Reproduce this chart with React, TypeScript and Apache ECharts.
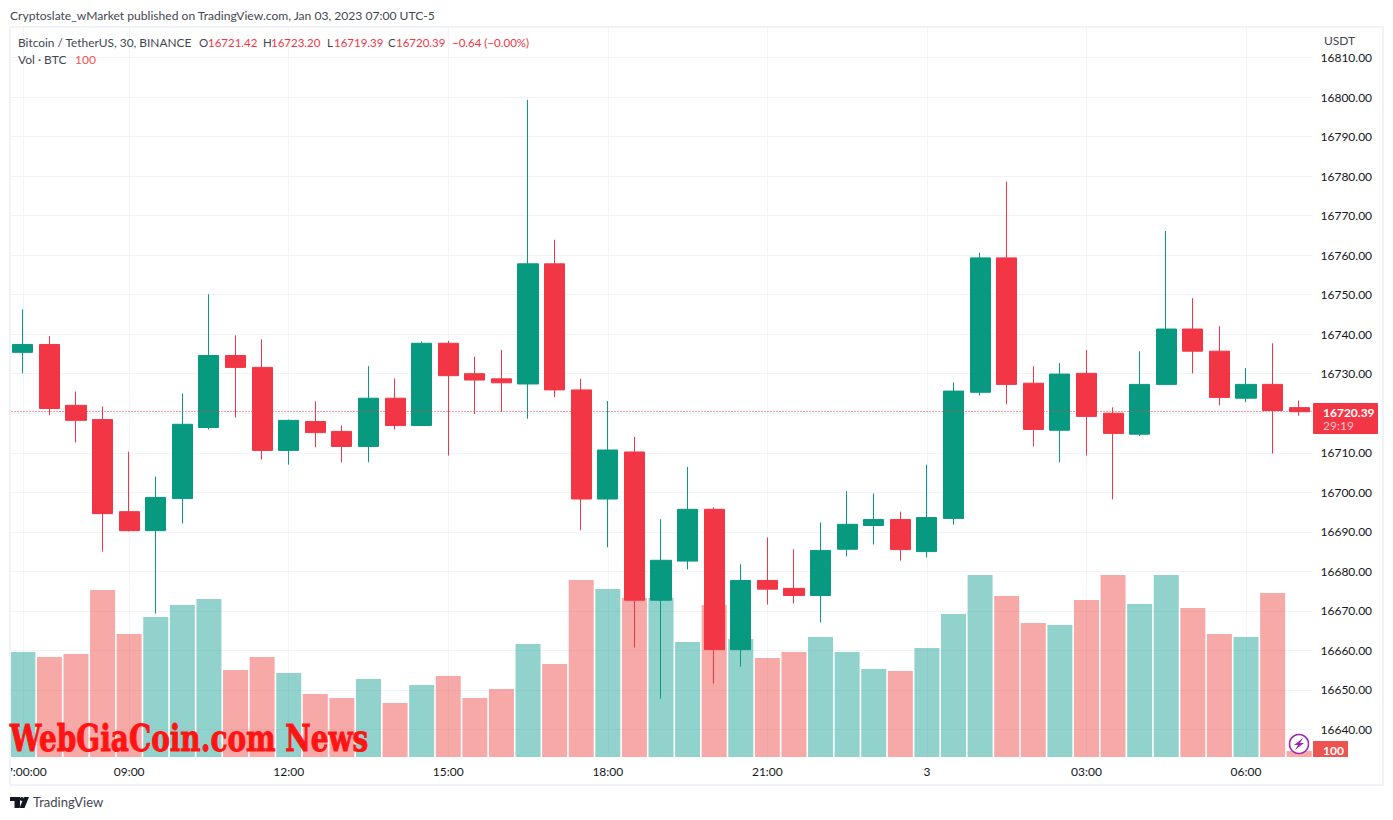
import React, { useEffect, useRef } from "react";
import * as echarts from "echarts";

const categories = ["07:00","07:30","08:00","08:30","09:00","09:30","10:00","10:30","11:00","11:30","12:00","12:30","13:00","13:30","14:00","14:30","15:00","15:30","16:00","16:30","17:00","17:30","18:00","18:30","19:00","19:30","20:00","20:30","21:00","21:30","22:00","22:30","23:00","23:30","3","00:30","01:00","01:30","02:00","02:30","03:00","03:30","04:00","04:30","05:00","05:30","06:00","06:30","07:00"];
const tickLabels: Record<number, string> = { 0: "07:00:00", 4: "09:00", 10: "12:00", 16: "15:00", 22: "18:00", 28: "21:00", 34: "3", 40: "03:00", 46: "06:00" };

const opens = [16735.4,16737.4,16722.0,16718.4,16695.1,16690.3,16698.4,16716.4,16734.6,16731.6,16710.6,16717.9,16715.4,16711.6,16723.8,16716.9,16737.7,16730.0,16728.7,16727.4,16757.8,16725.9,16698.3,16710.2,16672.7,16682.6,16695.7,16660.2,16677.7,16675.7,16673.9,16685.6,16691.6,16693.1,16685.0,16693.4,16725.3,16759.3,16727.6,16715.7,16730.1,16720.0,16714.7,16727.3,16741.3,16735.7,16723.8,16727.3,16721.42];
const closes = [16737.4,16721.2,16718.2,16694.6,16690.3,16698.7,16717.2,16734.6,16731.6,16710.6,16718.2,16715.1,16711.6,16723.8,16716.9,16737.7,16729.5,16728.4,16727.7,16757.8,16725.9,16698.3,16710.7,16672.7,16682.8,16695.7,16660.2,16677.7,16675.5,16673.9,16685.3,16691.9,16693.1,16685.5,16693.6,16725.6,16759.3,16727.3,16715.9,16729.9,16719.2,16714.9,16727.3,16741.3,16735.7,16724.0,16727.3,16720.7,16720.39];
const lows = [16730.1,16719.5,16712.6,16685.0,16690.1,16669.3,16692.1,16715.9,16718.9,16708.3,16707.0,16711.4,16707.6,16707.6,16715.9,16716.9,16709.3,16719.8,16720.3,16718.6,16724.1,16690.4,16686.1,16660.7,16647.8,16680.5,16651.6,16655.9,16671.6,16671.9,16667.1,16683.8,16686.8,16682.7,16683.5,16691.8,16724.5,16722.3,16711.6,16707.6,16709.3,16698.2,16714.2,16727.3,16730.1,16722.0,16722.8,16709.8,16719.39];
const highs = [16746.3,16739.5,16725.5,16721.7,16710.3,16704.0,16725.0,16750.1,16739.7,16738.7,16718.4,16723.0,16716.9,16731.9,16728.8,16738.2,16738.3,16734.3,16736.0,16799.3,16763.9,16728.7,16723.1,16714.0,16693.2,16706.4,16696.2,16681.8,16688.6,16685.6,16692.4,16700.3,16699.7,16695.1,16707.0,16727.8,16760.6,16778.6,16731.9,16732.7,16736.0,16721.5,16735.7,16766.1,16749.1,16742.0,16731.4,16737.7,16723.2];
const volumes = [1750,1667,1717,2783,2050,2333,2533,2633,1450,1667,1400,1050,983,1300,900,1200,1350,983,1133,1883,1550,2950,2800,2650,2650,1917,2533,1967,1650,1750,2000,1750,1467,1433,1817,2383,3033,2683,2233,2200,2617,3033,2550,3033,2483,2050,2000,2733,100];

const lastPrice = 16720.39;
const UP = "#089981";
const DOWN = "#F23645";
const UP_VOL = "rgba(38,166,154,0.5)";
const DOWN_VOL = "rgba(239,83,80,0.5)";
const GRID = "#F0F3FA";
const FONT = "Lato";
const TEXT = "#131722";
const MUTED = "#434651";

echarts.graphic.registerShape(
  "tvlogo",
  echarts.graphic.extendPath("M10 0H0v4h4.5v7H10V0Z M19 0l-4.5 11h-5L14 0h5Z M13.6 2a1.9 1.9 0 1 1-3.8 0 1.9 1.9 0 0 1 3.8 0Z", {}) as any
);

function txt(x: number, y: number, text: string, fill = TEXT, extra: any = {}) {
  return {
    type: "text", x, y, z: 110,
    style: { text, fill, font: `12px ${FONT}`, textVerticalAlign: "middle", ...extra },
  };
}

export default function App() {
  const ref = useRef<HTMLDivElement>(null);
  useEffect(() => {
    const chart = echarts.init(ref.current!, undefined, { renderer: "svg" });
    const small = { font: `11.5px ${FONT}` };
    chart.setOption({
      animation: false,
      backgroundColor: "#fff",
      grid: [
        { left: 9.5, width: 1303, top: 27, height: 730, outerBoundsMode: "none" },
        { left: 9.5, width: 1303, top: 17.94, height: 751.07, outerBoundsMode: "none" },
      ],
      xAxis: [
        {
          type: "category", gridIndex: 0, data: categories,
          axisLine: { show: false },
          axisTick: { show: false },
          splitLine: {
            show: true, alignWithLabel: true,
            interval: (i: number) => tickLabels[i] !== undefined,
            lineStyle: { color: GRID, width: 1 },
          },
          axisLabel: {
            interval: (i: number) => tickLabels[i] !== undefined,
            formatter: (_: string, i: number) => tickLabels[i] ?? "",
            color: TEXT, fontFamily: FONT, fontSize: 12, margin: 8,
          },
        },
        { type: "category", gridIndex: 1, data: categories, show: false },
      ],
      yAxis: [
        { type: "value", gridIndex: 0, min: 0, max: 12167, show: false },
        {
          type: "value", gridIndex: 1, min: 16630, max: 16820, interval: 10, position: "right",
          axisLine: { show: false }, axisTick: { show: false },
          splitLine: { show: true, showMinLine: false, showMaxLine: false, lineStyle: { color: GRID, width: 1 } },
          axisLabel: {
            showMinLabel: false, showMaxLabel: false,
            formatter: (v: number) => (v === Math.round(lastPrice) ? "" : v.toFixed(2)),
            color: TEXT, fontFamily: FONT, fontSize: 12, margin: 8,
          },
        },
      ],
      series: [
        {
          type: "bar", xAxisIndex: 0, yAxisIndex: 0, barWidth: 25, z: 2,
          data: volumes.map((v, i) => ({
            value: v,
            itemStyle: { color: closes[i] >= opens[i] ? UP_VOL : DOWN_VOL },
          })),
        },
        {
          type: "candlestick", xAxisIndex: 1, yAxisIndex: 1, barWidth: 20.6, z: 3,
          itemStyle: { color: UP, color0: DOWN, borderColor: UP, borderColor0: DOWN, borderWidth: 1 },
          data: opens.map((o, i) => [o, closes[i], lows[i], highs[i]]),
          markLine: {
            silent: true, symbol: "none", label: { show: false },
            lineStyle: { color: DOWN, type: [1, 2], dashOffset: 0.5, width: 1 },
            data: [{ yAxis: lastPrice }],
          },
        },
      ],
      graphic: [
        { type: "rect", z: 100, shape: { x: 0, y: 762, width: 9, height: 20 }, style: { fill: "#fff" } },
        { type: "rect", z: 101, shape: { x: 10, y: 27, width: 1373, height: 758 }, style: { fill: "transparent", stroke: GRID, lineWidth: 2 } },
        txt(10, 15, "Cryptoslate_wMarket published on TradingView.com, Jan 03, 2023 07:00 UTC-5", MUTED, { font: `12.1px ${FONT}` }),
        txt(18, 42, "Bitcoin / TetherUS, 30, BINANCE", MUTED, { font: `11.9px ${FONT}` }),
        txt(199, 42, "O", MUTED, small), txt(208, 42, "16721.42", DOWN, small),
        txt(263, 42, "H", MUTED, small), txt(271, 42, "16723.20", DOWN, small),
        txt(327, 42, "L", MUTED, small), txt(334, 42, "16719.39", DOWN, small),
        txt(388, 42, "C", MUTED, small), txt(396, 42, "16720.39", DOWN, small),
        txt(452, 42, "−0.64 (−0.00%)", DOWN, small),
        txt(18, 59, "Vol · BTC", MUTED), txt(75, 59, "100", "#EF5350"),
        txt(1324, 40, "USDT", MUTED),
        { type: "rect", z: 105, shape: { x: 1313, y: 403, width: 65, height: 31, r: 1 }, style: { fill: DOWN } },
        txt(1323, 412, "16720.39", "#fff", { font: `bold 12px ${FONT}` }),
        txt(1323, 425, "29:19", "#fbc4c8"),
        { type: "rect", z: 105, shape: { x: 1313, y: 741, width: 35, height: 16 }, style: { fill: "#EF5350" } },
        txt(1323, 750, "100", "#fff", { font: `bold 12px ${FONT}` }),
        { type: "circle", z: 106, shape: { cx: 1299, cy: 744, r: 9.5 }, style: { fill: "#fff", stroke: "#9C27B0", lineWidth: 1.5 } },
        { type: "polygon", z: 107, shape: { points: [[1303, 738], [1294, 745], [1298, 745], [1295, 750], [1304, 743], [1300, 743]] }, style: { fill: "#9C27B0" } },
        {
          type: "text", z: 108, x: 10, y: 738, scaleX: 0.755, scaleY: 1,
          style: { text: "WebGiaCoin.com News", fill: "#FF1414", stroke: "#FF1414", lineWidth: 1, font: "bold 37px 'DejaVu Serif'", textVerticalAlign: "middle" },
        },
        { type: "tvlogo", z: 110, x: 10, y: 797, style: { fill: "#131722" } },
        txt(33, 802, "TradingView", MUTED, { font: `13px ${FONT}` }),
      ],
    });
    return () => chart.dispose();
  }, []);
  return <div ref={ref} style={{ position: "absolute", left: 0, top: 0, width: 1393, height: 820 }} />;
}
